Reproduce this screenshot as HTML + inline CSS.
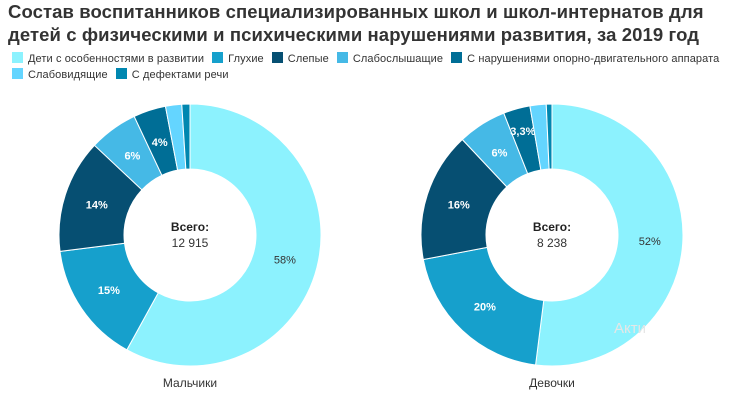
<!DOCTYPE html>
<html><head><meta charset="utf-8"><style>
body{margin:0;background:#fff;width:730px;height:401px;overflow:hidden;font-family:"Liberation Sans",sans-serif;}
.t{position:absolute;left:8px;top:0;font-size:18.5px;font-weight:bold;color:#333;line-height:23px;letter-spacing:0.1px}
.lg{position:absolute;left:12px;font-size:11px;color:#333;white-space:nowrap;letter-spacing:0.1px}
.lg span{display:inline-block;margin-right:8px}
.lg i{display:inline-block;width:11px;height:11px;vertical-align:-1px;margin-right:5px}
</style></head><body>
<div class="t">Состав воспитанников специализированных школ и школ-интернатов для<br>детей с физическими и психическими нарушениями развития, за 2019 год</div>
<div class="lg" style="top:52px"><span><i style="background:#8cf2fe"></i>Дети с особенностями в развитии</span><span><i style="background:#16a0cc"></i>Глухие</span><span><i style="background:#064f72"></i>Слепые</span><span><i style="background:#45b9e6"></i>Слабослышащие</span><span><i style="background:#006e96"></i>С нарушениями опорно-двигательного аппарата</span></div>
<div class="lg" style="top:68px"><span><i style="background:#64d5ff"></i>Слабовидящие</span><span><i style="background:#0087b0"></i>С дефектами речи</span></div>
<svg id="s" width="730" height="401" style="position:absolute;left:0;top:0" font-family="Liberation Sans, sans-serif"></svg>
<script>
var cols=["#8cf2fe","#16a0cc","#064f72","#45b9e6","#006e96","#64d5ff","#0087b0"];
function donut(cx,cy,vals,labels,total,name){
 var R=131,r=66,a=0,h="";
 for(var i=0;i<vals.length;i++){
  var a0=a,a1=a+vals[i]/100*2*Math.PI;a=a1;
  var p=function(rad,an){return (cx+rad*Math.sin(an)).toFixed(2)+","+(cy-rad*Math.cos(an)).toFixed(2)};
  var lg=(a1-a0)>Math.PI?1:0;
  h+='<path d="M'+p(R,a0)+' A'+R+','+R+' 0 '+lg+' 1 '+p(R,a1)+' L'+p(r,a1)+' A'+r+','+r+' 0 '+lg+' 0 '+p(r,a0)+'Z" fill="'+cols[i]+'" stroke="#fff" stroke-width="1"/>';
  if(labels[i]){var m=(a0+a1)/2,rr=i==4&&labels[i]=="3,3%"?108:98;
   var dark=i==0;
   h+='<text x="'+(cx+rr*Math.sin(m))+'" y="'+(cy-rr*Math.cos(m)+4)+'" text-anchor="middle" font-size="11" '+(dark?'fill="#333"':'fill="#fff" font-weight="bold"')+'>'+labels[i]+'</text>';}
 }
 h+='<text x="'+cx+'" y="'+(cy-4)+'" text-anchor="middle" font-size="12" font-weight="bold" fill="#222">Всего:</text>';
 h+='<text x="'+cx+'" y="'+(cy+12)+'" text-anchor="middle" font-size="12" fill="#333">'+total+'</text>';
 h+='<text x="'+cx+'" y="387" text-anchor="middle" font-size="12" fill="#333">'+name+'</text>';
 return h;
}
document.getElementById("s").innerHTML=
 donut(190,235,[58,15,14,6,4,2,1],["58%","15%","14%","6%","4%","",""],"12 915","Мальчики")+
 donut(552,235,[52,20,16,6,3.3,2,0.7],["52%","20%","16%","6%","3,3%","",""],"8 238","Девочки")+
 '<text x="614" y="333" font-size="15" fill="#e6e6e6">Акти</text>';
</script>
</body></html>
